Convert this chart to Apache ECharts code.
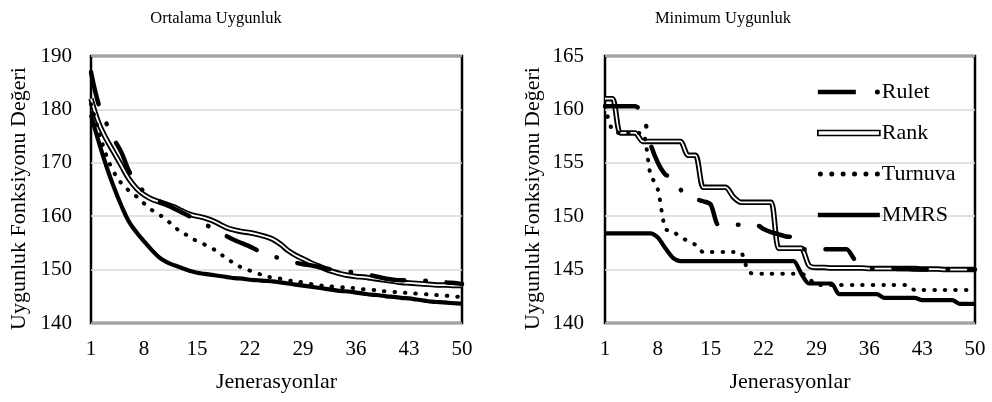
<!DOCTYPE html>
<html><head><meta charset="utf-8">
<script src="https://cdn.jsdelivr.net/npm/echarts@6/dist/echarts.min.js"></script>
<style>html,body{margin:0;padding:0;background:#fff}#c{width:992px;height:402px}</style>
</head><body><div id="c"></div>
<script>
const generations = ['1','2','3','4','5','6','7','8','9','10','11','12','13','14','15','16','17','18','19','20','21','22','23','24','25','26','27','28','29','30','31','32','33','34','35','36','37','38','39','40','41','42','43','44','45','46','47','48','49','50'];

// Ortalama Uygunluk (average fitness)
const ruletAvg = [187,181,177.5,174.5,172,168.5,166.3,164.6,163.5,162.8, 162.1,161.4,160.7,160,159.3,158.5,157.8,157,156.2,155.5, 154.9,154.3,153.6,153,152.5,152.1,151.7,151.3,151,150.8, 150.5,150.2,150,149.8,149.6,149.4,149.1,148.9,148.6,148.3, 148.1,148,148,148,147.9,147.9,147.8,147.6,147.5,147.3];
const rankAvg = [182,177.5,174.5,172,169.5,167,165.2,164,163.2,162.7, 162.2,161.7,161,160.4,160,159.7,159.2,158.5,157.8,157.4, 157.1,156.9,156.6,156.2,155.7,154.8,153.6,152.7,152,151.3, 150.7,150.1,149.6,149.2,148.9,148.7,148.6,148.4,148.2,148, 147.8,147.6,147.5,147.4,147.3,147.2,147.1,147.1,147,147];
const turnuvaAvg = [181,176,171.5,168.3,166.2,164.8,163.7,162.4,161.2,160.3, 159.3,158,157,156.2,155.3,154.7,154,153,152,151.1, 150.3,149.8,149.3,148.8,148.5,148.3,148,147.8,147.6,147.3, 147.1,146.9,146.8,146.7,146.6,146.5,146.3,146.2,146.1,145.9, 145.8,145.7,145.6,145.5,145.4,145.3,145.2,145.1,145,144.8];
const mmrsAvg = [179,174,169.5,165.5,162,159,157,155.3,153.7,152.3, 151.4,150.8,150.3,149.8,149.4,149.2,149,148.8,148.6,148.4, 148.3,148.1,148,147.9,147.8,147.6,147.4,147.2,147,146.8, 146.6,146.4,146.2,146,145.9,145.7,145.5,145.3,145.2,145, 144.9,144.7,144.6,144.4,144.2,144,143.9,143.8,143.7,143.6];

// Minimum Uygunluk (minimum fitness)
const ruletMin = [160.3,160.3,160.3,160.3,160.3,159.6,156.8,155,153.9,153.6, 152.5,151.8,151.6,151.4,151.1,149.2,149.2,149.2,149.2,149.2, 149.2,148.8,148.5,148.3,148.1,148,146.9,146.9,146.9,146.9, 146.9,146.9,146.9,146,145.5,145.15,145.1,145.1,145.1,145.05, 145.05,145,145,145,145,145,145,145,145,145];
const rankMin = [161,161,157.8,157.8,157.8,157,157,157,157,157, 157,155.7,155.7,152.7,152.7,152.7,152.7,151.8,151.3,151.3, 151.3,151.3,151.3,147,147,147,147,145.4,145.2,145.2, 145.15,145.15,145.15,145.15,145.15,145.1,145.1,145.1,145.1,145.1, 145.1,145.1,145.05,145.05,145.05,145,145,145,145,145];
const turnuvaMin = [160.3,158,157.8,157.8,157.8,157.8,154,152.5,148.8,148.6, 148,147.7,147.3,146.65,146.65,146.65,146.65,146.65,146.6,144.8, 144.6,144.6,144.6,144.6,144.6,144.6,144.6,144.2,143.55,143.55, 143.55,143.55,143.55,143.55,143.55,143.55,143.55,143.55,143.55,143.55, 143.55,143.1,143.1,143.1,143.1,143.1,143.1,143.1,143.1,143.1];
const mmrsMin = [148.4,148.4,148.4,148.4,148.4,148.4,148.4,148,147,146.1, 145.8,145.8,145.8,145.8,145.8,145.8,145.8,145.8,145.8,145.8, 145.8,145.8,145.8,145.8,145.8,145.8,144.6,143.7,143.7,143.7, 143.7,142.7,142.7,142.7,142.7,142.7,142.7,142.35,142.35,142.35, 142.35,142.35,142.15,142.15,142.15,142.15,142.15,141.8,141.8,141.8];

const chartTitles = ['Ortalama Uygunluk', 'Minimum Uygunluk'];
const yAxisTitle = 'Uygunluk Fonksiyonu Değeri';
const xAxisTitle = 'Jenerasyonlar';
const seriesNames = ['Rulet', 'Rank', 'Turnuva', 'MMRS'];

const FONT = 'Liberation Serif';
const txt = (size) => ({fontFamily: FONT, fontSize: size, color: '#000', fontWeight: 'normal'});

const chart = echarts.init(document.getElementById('c'), null, {renderer: 'canvas'});

const styles = {
  Rulet: {color: '#000', width: 4.5, type: [33, 21, 0.5, 21], cap: 'round'},
  RankOuter: {color: '#000', width: 5.5},
  RankInner: {color: '#fff', width: 1.8},
  Turnuva: {color: '#000', width: 4, type: [0.5, 10], cap: 'round'},
  MMRS: {color: '#000', width: 4.2}
};

function line(name, data, idx, style, smooth) {
  return {
    name: name, type: 'line', xAxisIndex: idx, yAxisIndex: idx, data: data,
    symbol: 'none', smooth: smooth, lineStyle: style, silent: true,
    itemStyle: {color: '#000'}
  };
}

const sets = [
  [ruletAvg, rankAvg, turnuvaAvg, mmrsAvg],
  [ruletMin, rankMin, turnuvaMin, mmrsMin]
];
const series = [];
sets.forEach((s, i) => {
  const sm = i === 0 ? 0.4 : 0.25;
  series.push(line('Rank', s[1], i, styles.RankOuter, sm));
  series.push(line('RankInner', s[1], i, styles.RankInner, sm));
  series.push(line('Rulet', s[0], i, styles.Rulet, sm));
  series.push(line('Turnuva', s[2], i, styles.Turnuva, sm));
  series.push(line('MMRS', s[3], i, styles.MMRS, sm));
});

// legend glyphs (shape only)
const dot = (cx) => 'M' + (cx - 2.5) + ',2.5a2.5,2.5 0 1 0 5,0a2.5,2.5 0 1 0 -5,0Z';
const iconRulet = 'path://M0,0.2H38V4.8H0Z' + dot(59.5);
const iconTurnuva = 'path://' + dot(2.5) + dot(13.9) + dot(25.3) + dot(36.7) + dot(48.1) + dot(59.5);
const iconMMRS = 'path://M0,0.2H62V4.8H0Z';

const yRanges = [{min: 140, max: 190, interval: 10, margin: 19}, {min: 140, max: 165, interval: 5, margin: 21}];

const option = {
  animation: false,
  backgroundColor: '#fff',
  title: [
    {text: chartTitles[0], left: 211, top: 5, textAlign: 'center', textStyle: txt(16.5)},
    {text: chartTitles[1], left: 718, top: 5, textAlign: 'center', textStyle: txt(16.5)}
  ],
  legend: {
    orient: 'vertical', left: 812, top: 76, itemWidth: 62, itemHeight: 5, itemGap: 19,
    textStyle: Object.assign(txt(22), {lineHeight: 22, padding: [0, 0, 0, -3]}),
    selectedMode: false,
    data: [
      {name: seriesNames[0], icon: iconRulet, itemStyle: {color: '#000', borderWidth: 0}},
      {name: seriesNames[1], icon: 'rect', itemStyle: {color: '#fff', borderColor: '#000', borderWidth: 1.7}},
      {name: seriesNames[2], icon: iconTurnuva, itemStyle: {color: '#000', borderWidth: 0}},
      {name: seriesNames[3], icon: iconMMRS, itemStyle: {color: '#000', borderWidth: 0}}
    ]
  },
  grid: [
    {left: 91, right: 530, top: 56, bottom: 79, show: true, borderColor: '#000', borderWidth: 2.5, backgroundColor: 'transparent'},
    {left: 605, right: 17, top: 56, bottom: 79, show: true, borderColor: '#000', borderWidth: 2.5, backgroundColor: 'transparent'}
  ],
  xAxis: [0, 1].map(i => ({
    type: 'category', gridIndex: i, data: generations, boundaryGap: false,
    axisLine: {show: false}, axisTick: {show: false},
    axisLabel: Object.assign(txt(21), {interval: 6, margin: 16}),
    splitLine: {show: false},
    name: xAxisTitle, nameLocation: 'middle', nameGap: 48, nameTextStyle: txt(22)
  })),
  yAxis: [0, 1].map(i => ({
    type: 'value', gridIndex: i, min: yRanges[i].min, max: yRanges[i].max, interval: yRanges[i].interval,
    axisLine: {show: false}, axisTick: {show: false},
    axisLabel: Object.assign(txt(21), {margin: yRanges[i].margin}),
    splitLine: {show: true, lineStyle: {color: '#d9d9d9', width: 1.5}},
    name: yAxisTitle, nameLocation: 'middle', nameGap: 61,
    nameTextStyle: Object.assign(txt(22), {padding: [0, 18, 0, 0]})
  })),
  series: series
};
chart.setOption(option);
</script>
</body></html>
